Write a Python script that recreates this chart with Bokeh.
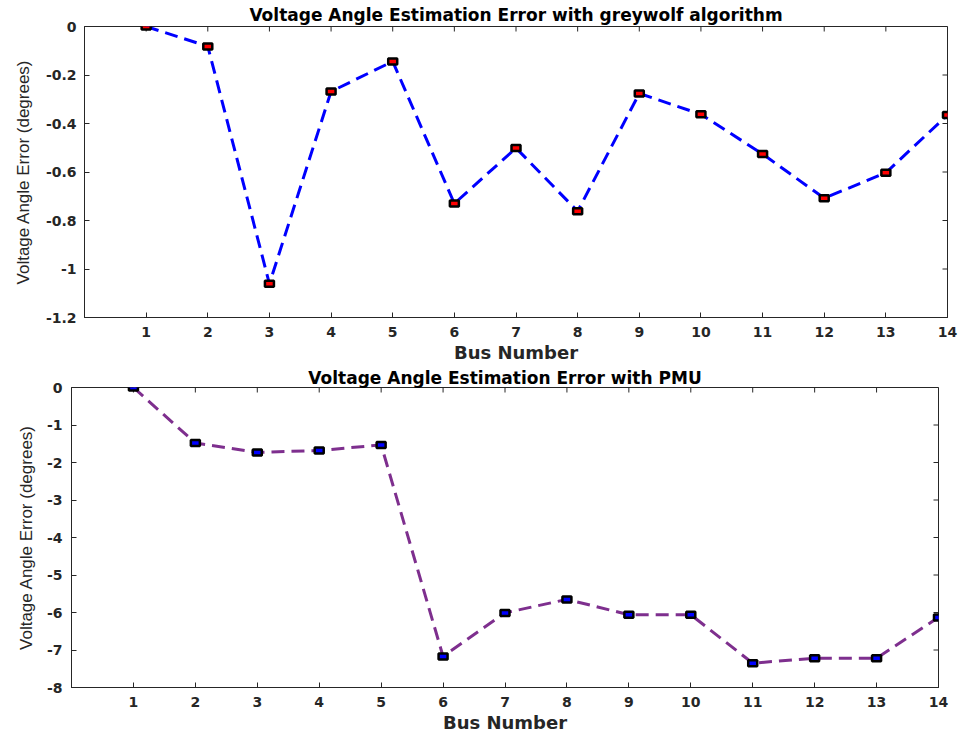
import math
from bokeh.plotting import figure
from bokeh.models import FixedTicker, ColumnDataSource, Range1d
from bokeh.embed import file_html
from bokeh.resources import INLINE

# ---- data ----
bus = [1, 2, 3, 4, 5, 6, 7, 8, 9, 10, 11, 12, 13, 14]
gwo_err = [0.0, -0.082, -1.061, -0.268, -0.144, -0.730, -0.501, -0.762,
           -0.276, -0.362, -0.526, -0.708, -0.603, -0.365]
pmu_err = [0.0, -1.48, -1.73, -1.68, -1.53, -7.17, -6.01, -5.65,
           -6.06, -6.06, -7.35, -7.22, -7.22, -6.13]

x_ticks = bus
x_tick_labels = [str(b) for b in bus]
top_y_ticks = [0, -0.2, -0.4, -0.6, -0.8, -1.0, -1.2]
top_y_labels = ["0", "-0.2", "-0.4", "-0.6", "-0.8", "-1", "-1.2"]
bot_y_ticks = [0, -1, -2, -3, -4, -5, -6, -7, -8]
bot_y_labels = ["0", "-1", "-2", "-3", "-4", "-5", "-6", "-7", "-8"]

title_top = "Voltage Angle Estimation Error with greywolf algorithm"
title_bot = "Voltage Angle Estimation Error with PMU"
x_label = "Bus Number"
y_label = "Voltage Angle Error (degrees)"

AX = "#262626"
BOLD_FONT = "DejaVu Sans"
LBL_FONT = "Liberation Sans"
X_MIN, X_MAX = 0, 14


def make_panel(vals, yticks, ylabels, yrange, title, line_color, fill_color,
               height, borders, ylab_standoff, ytick_standoff, title_standoff):
    bl, br, bt, bb = borders
    p = figure(width=963, height=height, output_backend="svg",
               toolbar_location=None, x_range=Range1d(X_MIN, X_MAX),
               y_range=Range1d(*yrange),
               min_border_left=bl, min_border_right=br,
               min_border_top=bt, min_border_bottom=bb)
    p.title.text = title
    p.title.align = "center"
    p.title.text_font = BOLD_FONT
    p.title.text_font_style = "bold"
    p.title.text_font_size = "17px"
    p.title.text_color = "#000000"
    p.title.standoff = title_standoff
    p.title.offset = 0

    p.xgrid.visible = False
    p.ygrid.visible = False
    p.outline_line_color = AX
    p.outline_line_width = 1
    p.outline_line_alpha = 1.0

    ld = {i: s for i, s in zip(yticks, ylabels)}
    xd = {i: s for i, s in zip(x_ticks, x_tick_labels)}

    for ax in p.xaxis:
        ax.ticker = FixedTicker(ticks=x_ticks)
        ax.major_label_overrides = xd
        ax.axis_label = x_label
    for ax in p.yaxis:
        ax.ticker = FixedTicker(ticks=yticks)
        ax.major_label_overrides = ld
        ax.axis_label = y_label

    for ax in list(p.xaxis) + list(p.yaxis):
        ax.major_tick_in = 5
        ax.major_tick_out = 0
        ax.minor_tick_line_color = None
        ax.axis_line_color = AX
        ax.major_tick_line_color = AX
        ax.major_label_text_font = BOLD_FONT
        ax.major_label_text_font_style = "bold"
        ax.major_label_text_font_size = "14px"
        ax.major_label_text_color = AX
        ax.axis_label_text_color = AX

    p.xaxis.major_label_standoff = 9
    p.xaxis.axis_label_text_font = BOLD_FONT
    p.xaxis.axis_label_text_font_style = "bold"
    p.xaxis.axis_label_text_font_size = "18px"
    p.xaxis.axis_label_standoff = 2
    p.yaxis.major_label_standoff = ytick_standoff
    p.yaxis.axis_label_text_font = LBL_FONT
    p.yaxis.axis_label_text_font_style = "normal"
    p.yaxis.axis_label_text_font_size = "17px"
    p.yaxis.axis_label_standoff = ylab_standoff

    # inward ticks on the top and right box edges (MATLAB "box on")
    y_top = yrange[1]
    top_src = ColumnDataSource(data=dict(x=x_ticks, y=[y_top] * len(x_ticks)))
    p.ray("x", "y", source=top_src, length=5, length_units="screen",
          angle=-math.pi / 2, line_color=AX, line_width=1)
    right_src = ColumnDataSource(data=dict(x=[X_MAX] * len(yticks), y=yticks))
    p.ray("x", "y", source=right_src, length=5, length_units="screen",
          angle=math.pi, line_color=AX, line_width=1)

    src = ColumnDataSource(data=dict(x=bus, y=vals))
    p.line("x", "y", source=src, line_color=line_color, line_width=3,
           line_dash="13 7")
    p.rect("x", "y", width=9, height=6, width_units="screen",
           height_units="screen", source=src, fill_color=fill_color,
           line_color="#000000", line_width=2.5)
    return p


p1 = make_panel(gwo_err, top_y_ticks, top_y_labels, (-1.2, 0), title_top,
                "#0000FF", "#FF0000", 365, (84, 16, 26, 48), 10, 8, 4)
p2 = make_panel(pmu_err, bot_y_ticks, bot_y_labels, (-8, 0), title_bot,
                "#7E2F8E", "#0000FF", 370, (71, 25, 22, 48), 8, 9, 0)

open("out.html", "w").write(file_html([p1, p2], INLINE))
